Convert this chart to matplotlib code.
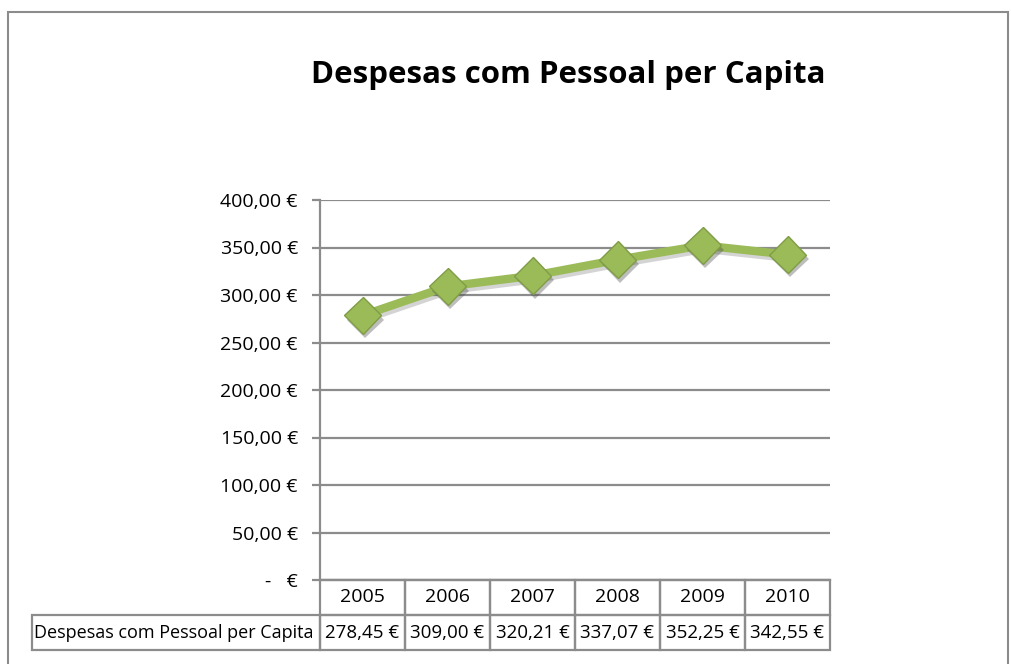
import matplotlib.pyplot as plt
import matplotlib.patheffects as pe
from matplotlib.patches import Rectangle

# ##### Data #####
years = ["2005", "2006", "2007", "2008", "2009", "2010"]
values = [278.45, 309.00, 320.21, 337.07, 352.25, 342.55]
series_name = "Despesas com Pessoal per Capita"
yticks = [0, 50, 100, 150, 200, 250, 300, 350, 400]


def euro(v):
    if v == 0:
        return "-   €"
    return ("%.2f €" % v).replace(".", ",")


W, H = 1011, 664
plt.rcParams['font.family'] = ['Open Sans', 'DejaVu Sans']
fs = 14

fig = plt.figure(figsize=(W / 100, H / 100), dpi=100)

# outer chart border
fig.patches.append(Rectangle((8 / W, -0.05), 1000 / W, (H - 12) / H + 0.05,
                             transform=fig.transFigure, fill=False,
                             edgecolor="#8c8c8c", linewidth=1.5))

ax = fig.add_axes([320 / W, (H - 580) / H, 510 / W, 380 / H])

grid = "#8c8c8c"
x = range(len(years))
# line with a soft shadow
ax.plot(x, values, color="#9BBB59", linewidth=6, solid_capstyle="round", zorder=3,
        path_effects=[pe.SimpleLineShadow(offset=(1.5, -2.5), shadow_color="#555555", alpha=0.25),
                      pe.Normal()])
# diamond markers with shadow
ax.plot(x, values, linestyle="none", marker="D", markersize=19,
        markerfacecolor="#9BBB59", markeredgecolor="#7E9D45", markeredgewidth=1, zorder=4,
        path_effects=[pe.SimplePatchShadow(offset=(2, -3), shadow_rgbFace="#444444", alpha=0.35),
                      pe.Normal()])

ax.set_xlim(-0.5, len(years) - 0.5)
ax.set_ylim(0, 400)
ax.set_yticks(yticks)
ax.set_yticklabels([euro(v) for v in yticks], fontsize=fs)
ax.yaxis.grid(True, color=grid, linewidth=1.6)
ax.set_axisbelow(True)
ax.set_xticks([])
for s in ["top", "right"]:
    ax.spines[s].set_visible(False)
ax.spines["left"].set_color(grid)
ax.spines["left"].set_linewidth(1.6)
ax.spines["bottom"].set_color(grid)
ax.spines["bottom"].set_linewidth(1.6)
ax.tick_params(axis="y", length=6, width=1.6, color=grid, pad=10)

# data table under the plot
row_h = 35 / 380
label_w = (320 - 32) / 510
tr = ax.transAxes
n = len(years)
for i, (yr, v) in enumerate(zip(years, values)):
    ax.add_patch(Rectangle((i / n, -row_h), 1 / n, row_h, transform=tr, fill=False,
                           edgecolor=grid, linewidth=1.6, clip_on=False))
    ax.add_patch(Rectangle((i / n, -2 * row_h), 1 / n, row_h, transform=tr, fill=False,
                           edgecolor=grid, linewidth=1.6, clip_on=False))
    ax.text((i + 0.5) / n, -row_h / 2, yr, transform=tr, ha="center", va="center", fontsize=fs)
    ax.text((i + 0.5) / n, -1.5 * row_h, euro(v), transform=tr, ha="center", va="center", fontsize=13.5)
ax.add_patch(Rectangle((-label_w, -2 * row_h), label_w, row_h, transform=tr, fill=False,
                       edgecolor=grid, linewidth=1.6, clip_on=False))
ax.text(-label_w + 0.003, -1.5 * row_h, series_name, transform=tr, ha="left", va="center", fontsize=13)

fig.text(568 / W, 1 - 75 / H, "Despesas com Pessoal per Capita", ha="center", va="center",
         fontsize=22.5, fontweight="bold")

fig.savefig("out.png", dpi=100)
